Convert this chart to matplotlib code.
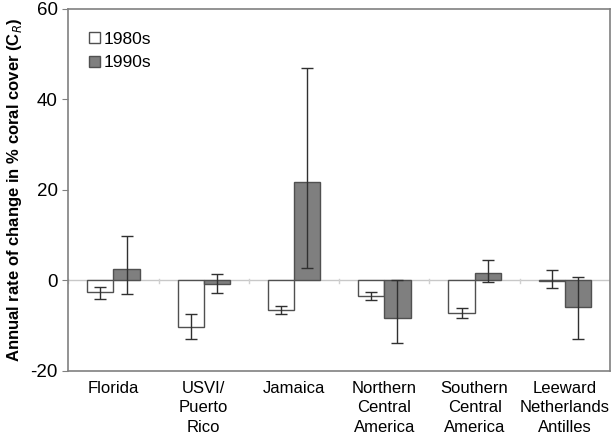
import numpy as np
import matplotlib.pyplot as plt

plt.rcParams['font.family'] = ['Liberation Sans', 'DejaVu Sans']
plt.rcParams['axes.unicode_minus'] = False

regions = ["Florida", "USVI/\nPuerto\nRico", "Jamaica", "Northern\nCentral\nAmerica",
           "Southern\nCentral\nAmerica", "Leeward\nNetherlands\nAntilles"]

# 1980s values and error bar ends (low, high)
rate_80s = [-2.6, -10.3, -6.6, -3.5, -7.1, -0.2]
low_80s = [-4.1, -12.9, -7.4, -4.4, -8.4, -1.6]
high_80s = [-1.4, -7.5, -5.6, -2.6, -6.1, 2.4]

# 1990s values and error bar ends
rate_90s = [2.6, -0.8, 21.7, -8.4, 1.6, -5.8]
low_90s = [-2.9, -2.8, 2.8, -13.8, -0.3, -12.9]
high_90s = [9.9, 1.5, 47.0, 0.0, 4.4, 0.8]

fig = plt.figure(figsize=(6.15, 4.4), dpi=100)
ax = fig.add_axes([0.111, 0.157, 0.881, 0.823])

x = np.arange(len(regions))
w = 0.29
edge = '#505050'

r80 = np.array(rate_80s)
r90 = np.array(rate_90s)
err80 = [r80 - np.array(low_80s), np.array(high_80s) - r80]
err90 = [r90 - np.array(low_90s), np.array(high_90s) - r90]

ax.axhline(0, color='#c8c8c8', lw=1, zorder=0)
# little category marks on the zero line
for b in np.arange(len(regions) + 1) - 0.5:
    ax.plot([b, b], [-0.6, 0.3], color='#d0d0d0', lw=1, zorder=0)

ax.bar(x - w / 2, r80, w, color='white', edgecolor=edge, lw=1, label='1980s', zorder=2)
ax.bar(x + w / 2, r90, w, color='#7f7f7f', edgecolor=edge, lw=1, label='1990s', zorder=2)
ax.errorbar(x - w / 2, r80, yerr=err80, fmt='none', ecolor='#303030', elinewidth=1,
            capsize=4, capthick=1, zorder=3)
ax.errorbar(x + w / 2, r90, yerr=err90, fmt='none', ecolor='#303030', elinewidth=1,
            capsize=4, capthick=1, zorder=3)

ax.set_xlim(-0.5, len(regions) - 0.5)
ax.set_ylim(-20, 60)
ax.set_yticks([-20, 0, 20, 40, 60])
ax.set_xticks(x)
ax.set_xticklabels(regions, fontsize=12, va='top', linespacing=1.4)
ax.tick_params(axis='x', length=0, pad=7)
ax.tick_params(axis='y', labelsize=13.5, length=4, direction='out', color='#808080')
for s in ax.spines.values():
    s.set_color('#808080')
    s.set_linewidth(1.2)

ax.set_ylabel('Annual rate of change in % coral cover (C$_R$)', fontsize=12,
              fontweight='bold', labelpad=5)

ax.legend(loc='upper left', frameon=False, fontsize=12.5, handlelength=0.6,
          handleheight=0.6, handletextpad=0.2, labelspacing=0.5,
          bbox_to_anchor=(0.01, 0.98))

fig.savefig('out.png', dpi=100)
